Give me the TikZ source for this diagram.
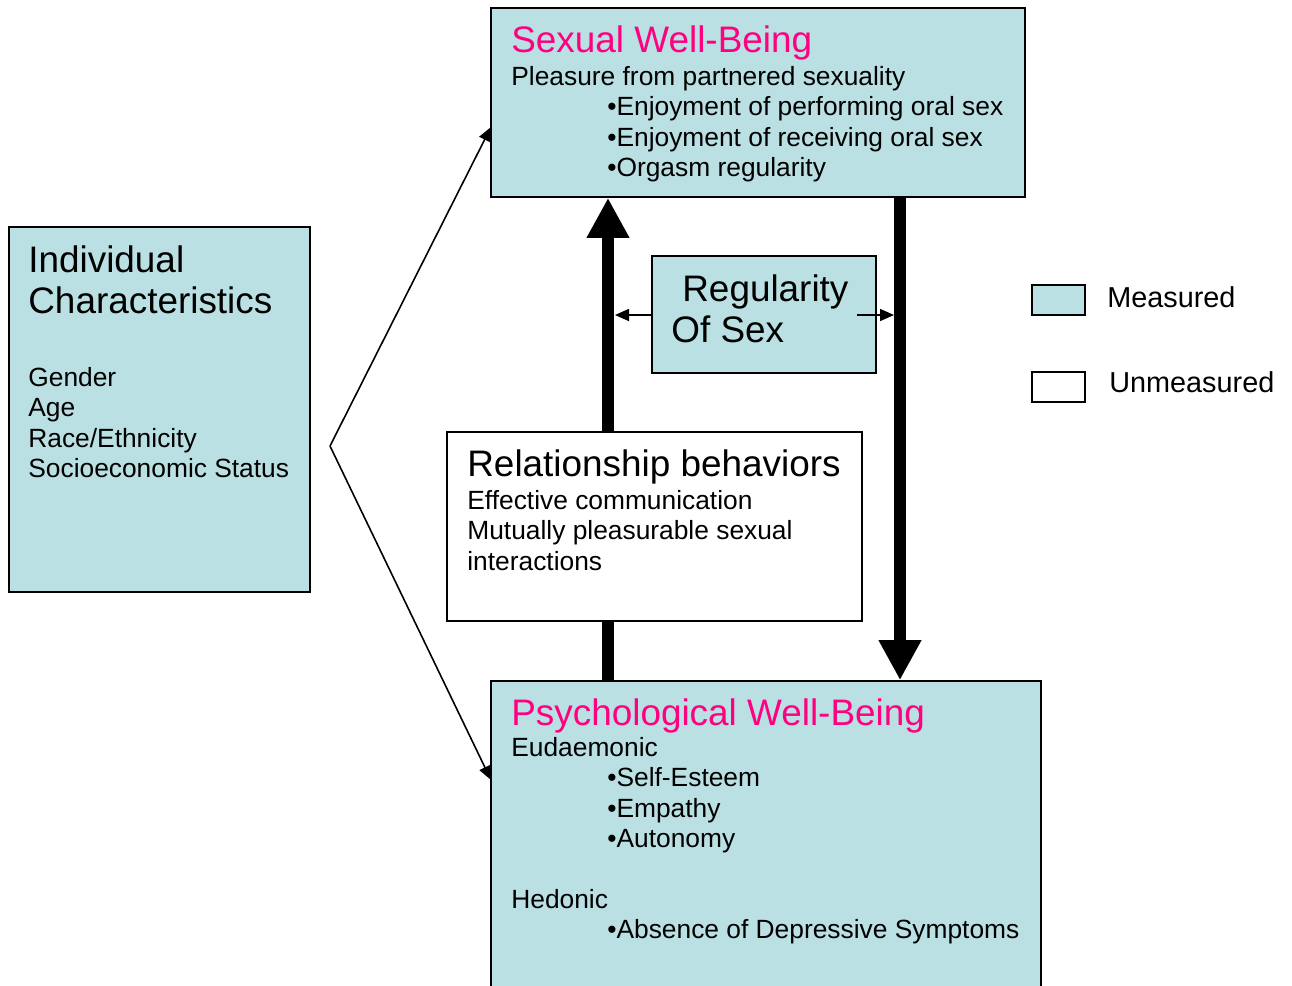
\documentclass[tikz,border=0pt]{standalone}
\usepackage{fontspec}
\setmainfont{Liberation Sans}
\usetikzlibrary{arrows.meta}

\definecolor{measured}{RGB}{186,224,227}
\definecolor{headpink}{RGB}{255,0,128}
\newcommand{\bigfont}{\fontsize{21}{23.7}\selectfont}
\newcommand{\smallfont}{\fontsize{15}{17.3}\selectfont}

\tikzset{
  box/.style={draw, line width=1pt, inner sep=0pt},
  txt/.style={anchor=north west, inner sep=0pt, align=left},
  thick arrow/.style={line width=6.8pt, -{Triangle[width=0.8cm,length=0.8cm]}},
  thin arrow/.style={line width=0.9pt, -{Triangle[width=0.24cm,length=0.28cm]}}
}

\begin{document}
\begin{tikzpicture}[x=0.02cm, y=-0.02cm]
\useasboundingbox (0,0) rectangle (1292,985);

% boxes
\node (sexual) at (758,102.5) [box, fill=measured, minimum width=10.68cm, minimum height=3.78cm] {};
\node (indiv) at (159.5,409.5) [box, fill=measured, minimum width=6.02cm, minimum height=7.3cm] {};
\node (regular) at (764,314.5) [box, fill=measured, minimum width=4.48cm, minimum height=2.34cm] {};
\node (relation) at (654.5,526.5) [box, fill=white, minimum width=8.3cm, minimum height=3.78cm] {};
\node (psych) at (766,840.5) [box, fill=measured, minimum width=11cm, minimum height=6.38cm] {};

% texts
\node (sextitle) at (511,25) [txt, font=\bigfont, text=headpink] {Sexual Well-Being};
\node (sexbody) at (511,66) [txt, font=\smallfont] {Pleasure from partnered sexuality\\
  \hspace*{1.92cm}•Enjoyment of performing oral sex\\
  \hspace*{1.92cm}•Enjoyment of receiving oral sex\\
  \hspace*{1.92cm}•Orgasm regularity};
\node (indtitle) at (28,245) [txt, font=\bigfont] {Individual\\Characteristics};
\node (indbody) at (28,367) [txt, font=\smallfont] {Gender\\Age\\Race/Ethnicity\\Socioeconomic Status};
\node (regtext) at (671,274) [txt, font={\fontsize{21}{23.8}\selectfont}] {\hspace*{0.22cm}Regularity\\Of Sex};
\node (reltitle) at (467,449) [txt, font=\bigfont] {Relationship behaviors};
\node (relbody) at (467,490) [txt, font=\smallfont] {Effective communication\\
  Mutually pleasurable sexual\\interactions};
\node (psytitle) at (511,698) [txt, font=\bigfont, text=headpink] {Psychological Well-Being};
\node (psybody) at (511,737) [txt, font=\smallfont] {Eudaemonic\\
  \hspace*{1.92cm}•Self-Esteem\\
  \hspace*{1.92cm}•Empathy\\
  \hspace*{1.92cm}•Autonomy\\[17.3pt]
  Hedonic\\
  \hspace*{1.92cm}•Absence of Depressive Symptoms};

% legend
\node (meas) at (1058.5,300) [box, fill=measured, minimum width=1.06cm, minimum height=0.6cm] {};
\node (unmeas) at (1058.5,387) [box, fill=white, minimum width=1.06cm, minimum height=0.6cm] {};
\node (meastext) at (1107,286) [txt, font={\fontsize{16.4}{19}\selectfont}] {Measured};
\node (unmeastext) at (1109,371) [txt, font={\fontsize{16.4}{19}\selectfont}] {Unmeasured};

% connectors
\coordinate (upx) at (608,0);
\coordinate (downx) at (900,0);
\coordinate (fork) at (330,446);
\coordinate (sexin) at (491,127);
\coordinate (psyin) at (491,780);
\coordinate (uphit) at (615,315);
\coordinate (downhit) at (894,315);

\draw[thick arrow] (upx |- relation.north) -- (upx |- sexual.south);
\draw[line width=6.8pt] (upx |- relation.south) -- (upx |- psych.north);
\draw[thick arrow] (downx |- sexual.south) -- (downx |- psych.north);
\draw[thin arrow] (regular.west |- uphit) -- (uphit);
\draw[thin arrow] ([xshift=-0.4cm]regular.east |- downhit) -- (downhit);
\draw[thin arrow] (fork) -- (sexin);
\draw[thin arrow] (fork) -- (psyin);
\end{tikzpicture}
\end{document}
